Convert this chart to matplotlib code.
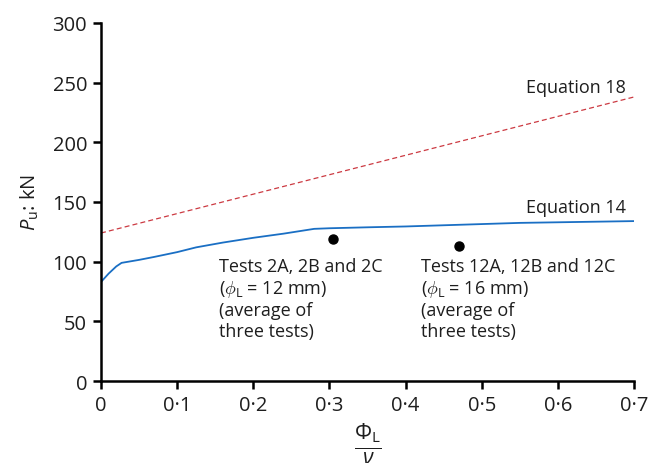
import matplotlib
matplotlib.use("Agg")
from matplotlib import pyplot as plt
from matplotlib.ticker import FuncFormatter

plt.rcParams["font.family"] = ["Open Sans", "DejaVu Sans"]
plt.rcParams["mathtext.fontset"] = "custom"
plt.rcParams["mathtext.rm"] = "Open Sans"
plt.rcParams["mathtext.it"] = "Open Sans:italic"

# curve from equation 14
eq14_x = [0.0, 0.01, 0.02, 0.027, 0.05, 0.07, 0.1, 0.125, 0.16, 0.2, 0.24, 0.28, 0.3, 0.35, 0.4, 0.45, 0.5, 0.55, 0.6, 0.65, 0.7]
eq14_y = [83, 90, 96, 99, 101.5, 104, 108, 112, 116, 120, 123.5, 127.5, 128, 128.8, 129.5, 130.5, 131.5, 132.5, 133, 133.5, 134]

# straight line from equation 18
eq18_x = [0.0, 0.7]
eq18_y = [124, 238]

# averaged tests
test_x = [0.305, 0.47]
test_y = [119, 113]

xticks = [0, 0.1, 0.2, 0.3, 0.4, 0.5, 0.6, 0.7]
yticks = [0, 50, 100, 150, 200, 250, 300]

txt = "#1e1e1e"

fig = plt.figure(figsize=(6.61, 4.64), dpi=100)
ax = fig.add_axes([0.1528, 0.1767, 0.8063, 0.7716])

ax.plot(eq18_x, eq18_y, color="#cc3a42", lw=0.9, ls=(0, (4, 2.5)))
ax.plot(eq14_x, eq14_y, color="#1a6fc4", lw=1.3)
ax.plot(test_x, test_y, "o", color="black", ms=6.5)

ax.set_xlim(0, 0.7)
ax.set_ylim(0, 300)
ax.set_xticks(xticks)
ax.set_yticks(yticks)
ax.xaxis.set_major_formatter(FuncFormatter(lambda v, p: "0" if v == 0 else f"{v:.1f}".replace(".", "·")))

for s in ["top", "right"]:
    ax.spines[s].set_visible(False)
for s in ["left", "bottom"]:
    ax.spines[s].set_linewidth(1.8)
ax.tick_params(direction="out", length=6, width=1.8, labelsize=14.5, labelcolor=txt, pad=4)

ax.text(0.558, 239, "Equation 18", fontsize=13, va="bottom", color=txt)
ax.text(0.558, 138, "Equation 14", fontsize=13, va="bottom", color=txt)

ax.text(0.155, 104, "Tests 2A, 2B and 2C\n($\\phi_\\mathrm{L}$ = 12 mm)\n(average of\nthree tests)",
        fontsize=13, va="top", linespacing=1.18, color=txt)
ax.text(0.42, 104, "Tests 12A, 12B and 12C\n($\\phi_\\mathrm{L}$ = 16 mm)\n(average of\nthree tests)",
        fontsize=13, va="top", linespacing=1.18, color=txt)

ax.set_ylabel("$P_\\mathrm{u}$: kN", fontsize=14.5, labelpad=8, color=txt)
ax.set_xlabel("$\\frac{\\Phi_\\mathrm{L}}{\\nu}$", fontsize=22, labelpad=4, color=txt)

fig.savefig("out.png", dpi=100)
